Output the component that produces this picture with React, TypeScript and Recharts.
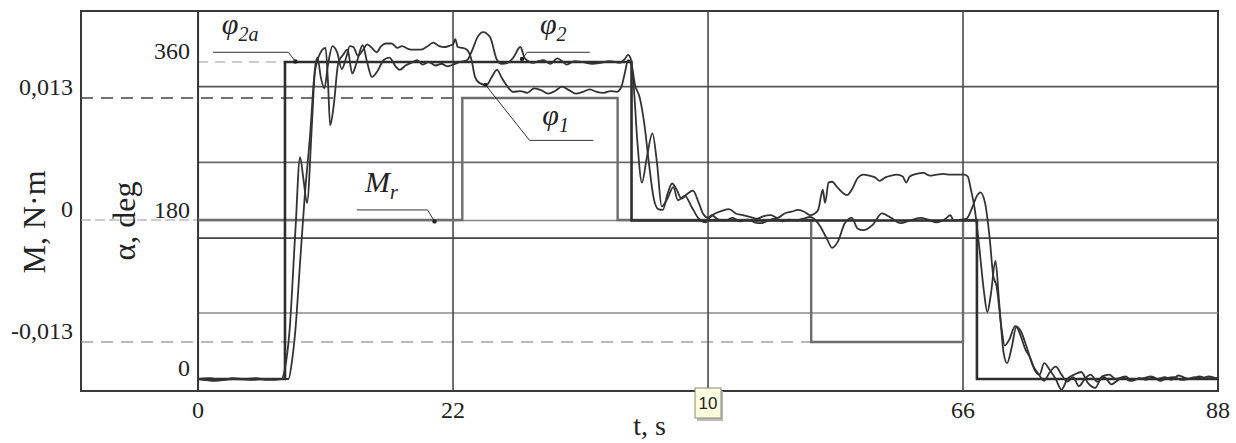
import React from 'react';
import {
  LineChart,
  Line,
  XAxis,
  YAxis,
  ReferenceLine,
  ReferenceArea,
  ReferenceDot
} from 'recharts';

// time ticks (s) and axis ticks
const T_TICKS = [0, 22, 44, 66, 88];
const T_GRID = [0, 22, 44, 66];
const ALPHA_TICKS = [0, 180, 360];
const M_TICKS = [-0.013, 0, 0.013];
const ALPHA_GRID = [75, 160, 246, 332];

const T_DOMAIN = [-10.1, 88];
const ALPHA_DOMAIN = [-13.6, 417.9];
const M_DOMAIN = [-0.01822, 0.02227];

// reference angle phi_2a (deg)
const PHI_2A = [
  [0, 0], [7.5, 0], [7.5, 360], [37.4, 360], [37.4, 180], [67.2, 180], [67.2, 0], [88, 0]
];

// load torque M_r (N·m)
const M_R = [
  [0, 0], [22.8, 0], [22.8, 0.013], [36.2, 0.013], [36.2, 0], [52.9, 0],
  [52.9, -0.013], [66, -0.013], [66, 0], [88, 0]
];

// phi_1 (deg)
const PHI_1 = [
  [0, 0], [1, 1], [2, -1], [3, 1], [4, 0], [5, 1], [6, -1], [7.2, 0], [7.5, 12], [7.9, 56],
  [8.4, 169], [8.8, 252], [9.1, 226], [9.4, 200], [9.8, 283], [10.1, 354], [10.3, 365],
  [10.6, 342], [10.9, 330], [11.2, 356], [11.6, 378], [12.0, 371], [12.4, 352], [12.8, 366],
  [13.1, 378], [13.4, 377], [13.8, 367], [14.2, 373], [14.6, 380], [15.0, 376], [15.4, 371],
  [15.8, 378], [16.2, 381], [16.7, 381], [17.2, 376], [17.6, 378], [18.1, 375], [18.6, 374],
  [19.2, 374], [19.7, 377], [20.3, 382], [20.8, 378], [21.3, 377], [21.8, 379], [22.0, 380],
  [22.2, 386], [22.4, 377], [22.8, 376], [23.2, 374], [23.6, 362], [23.9, 343], [24.3, 336],
  [24.9, 334], [25.3, 342], [25.8, 351], [26.2, 342], [26.7, 332], [27.2, 326], [27.8, 327],
  [28.4, 325], [29.0, 330], [29.6, 328], [30.2, 324], [30.8, 327], [31.4, 332], [32.0, 328],
  [32.6, 324], [33.2, 326], [33.8, 329], [34.4, 326], [35.0, 325], [35.6, 327], [36.1, 326],
  [36.5, 331], [36.8, 346], [37.1, 362], [37.4, 357], [37.7, 334], [38.1, 320], [38.5, 290],
  [38.9, 245], [39.3, 206], [39.7, 193], [40.1, 192], [40.5, 210], [40.9, 222], [41.3, 215],
  [41.7, 205], [42.2, 210], [42.7, 214], [43.2, 200], [43.6, 187], [44.0, 183], [44.6, 188],
  [45.2, 191], [45.8, 193], [46.4, 188], [47.0, 186], [47.6, 184], [48.2, 182], [48.8, 185],
  [49.4, 186], [50.0, 183], [50.6, 188], [51.2, 190], [51.8, 192], [52.3, 190], [52.8, 186],
  [53.2, 188], [53.5, 192], [53.8, 211], [53.9, 215], [54.1, 200], [54.4, 223], [54.7, 224],
  [55.2, 217], [56.0, 209], [56.4, 215], [56.9, 228], [57.4, 232], [57.9, 231], [58.4, 229],
  [58.8, 225], [59.3, 229], [59.8, 231], [60.3, 232], [60.8, 230], [61.1, 223], [61.4, 230],
  [62.0, 233], [62.6, 234], [63.1, 231], [63.7, 232], [64.3, 233], [64.9, 232], [65.5, 232],
  [66.1, 232], [66.4, 230], [66.7, 214], [67.0, 194], [67.4, 150], [67.8, 100], [68.1, 76],
  [68.4, 96], [68.8, 134], [69.1, 90], [69.5, 30], [69.8, 18], [70.2, 36], [70.6, 59],
  [71.0, 48], [71.4, 33], [71.8, 24], [72.2, 10], [72.6, 5], [73.0, 18], [73.5, 10], [74.0, 0],
  [74.5, -12], [75.0, 0], [75.6, 5], [76.2, 8], [76.8, -5], [77.4, -10], [78.0, 3], [78.6, 5],
  [79.2, 0], [79.8, 2], [80.4, -2], [81.0, 0], [81.6, 1], [82.2, 3], [82.8, 0], [83.4, 2],
  [84.0, -1], [84.6, 4], [85.2, 1], [85.8, 0], [86.4, 3], [87.0, 1], [88, 1]
];

// phi_2 (deg)
const PHI_2 = [
  [0, 0], [1.5, -2], [3, 0], [4.5, -1], [6, 0], [7.8, 0], [8.1, 20], [8.4, 56], [8.8, 132],
  [9.2, 207], [9.7, 283], [10.0, 340], [10.4, 366], [11.0, 376], [11.2, 340], [11.4, 288],
  [11.7, 310], [12.1, 359], [12.5, 368], [12.9, 374], [13.3, 347], [13.7, 360], [14.2, 379],
  [14.6, 359], [15.0, 343], [15.5, 350], [16.0, 362], [16.5, 365], [17.1, 354], [17.4, 351],
  [17.9, 356], [18.4, 359], [18.9, 362], [19.4, 357], [19.9, 360], [20.5, 356], [21.0, 358],
  [21.5, 355], [22.0, 357], [22.6, 360], [23.2, 362], [23.7, 375], [24.1, 388], [24.6, 394],
  [25.2, 388], [25.8, 362], [26.2, 358], [26.7, 359], [27.2, 365], [27.8, 377], [28.2, 364],
  [28.9, 359], [29.4, 361], [29.8, 362], [30.4, 358], [31.0, 364], [31.5, 360], [31.8, 357],
  [32.5, 361], [33.2, 360], [34.0, 358], [34.7, 359], [35.5, 361], [36.4, 359], [36.8, 363],
  [37.1, 368], [37.3, 365], [37.6, 330], [37.9, 270], [38.3, 223], [38.7, 250], [39.2, 279],
  [39.6, 245], [40.0, 196], [40.5, 205], [41.0, 218], [41.4, 203], [42.0, 208], [42.6, 195],
  [43.2, 182], [43.8, 178], [44.3, 186], [44.9, 181], [45.5, 180], [46.1, 183], [46.8, 179],
  [47.4, 181], [48.0, 178], [48.6, 177], [49.2, 180], [49.8, 182], [50.4, 179], [51.0, 181],
  [51.6, 180], [52.2, 182], [52.8, 184], [53.3, 180], [53.7, 173], [54.3, 158], [54.7, 149],
  [55.2, 156], [55.8, 177], [56.4, 183], [56.9, 171], [57.4, 169], [58.2, 175], [59.0, 188],
  [59.8, 183], [60.6, 177], [61.4, 180], [62.3, 183], [63.0, 181], [63.7, 178], [64.5, 182],
  [64.9, 186], [65.2, 180], [65.8, 181], [66.3, 182], [66.8, 195], [67.2, 208], [67.5, 212],
  [67.9, 200], [68.3, 160], [68.6, 118], [68.9, 105], [69.3, 60], [69.6, 38], [70.0, 45],
  [70.5, 60], [71.0, 54], [71.5, 36], [72.0, 16], [72.5, 6], [73.0, -2], [73.5, 8], [74.0, 14],
  [74.5, 5], [75.0, -3], [75.5, 2], [76.0, -8], [76.5, 0], [77.0, 5], [77.6, -3], [78.2, 2],
  [78.8, -6], [79.4, -1], [80.0, 3], [80.6, -2], [81.2, 1], [81.8, -1], [82.4, 2], [83.0, -2],
  [83.6, 1], [84.2, 2], [84.8, -1], [85.4, 0], [86.0, 2], [86.6, 1], [87.2, 3], [88, 0]
];

// curve labels and their leader lines (t, deg)
const LABELS = [
  { t: 2.05, a: 392, main: 'φ', sub: '2a' },
  { t: 29.5, a: 392, main: 'φ', sub: '2' },
  { t: 29.7, a: 289, main: 'φ', sub: '1' },
  { t: 14.4, a: 212, main: 'M', sub: 'r' }
];
const LEADERS = [
  [[1.3, 371], [7.8, 371], [8.4, 360.5]],
  [[27.95, 363.5], [28.4, 371], [33.8, 371]],
  [[24.8, 334], [28.6, 271], [34.1, 271]],
  [[13.7, 192], [19.8, 192], [20.4, 179]]
];

const SERIF = "'Liberation Serif', 'Times New Roman', serif";
const toPts = (arr: number[][]) => arr.map(([t, v]) => ({ t, v }));
const fmtM = (v: number) => (v === 0 ? '0' : v.toFixed(3).replace('.', ','));

const MTick = ({ y, payload }: any) => (
  <text x={73} y={y - 3} textAnchor="end" fontFamily={SERIF} fontSize={24} fill="#222">
    {fmtM(payload.value)}
  </text>
);

const AlphaTick = ({ y, payload }: any) => (
  <text x={190} y={y - 3} textAnchor="end" fontFamily={SERIF} fontSize={24} fill="#222">
    {payload.value}
  </text>
);

const TTick = ({ x, y, payload }: any) => {
  if (payload.value === 44) {
    return (
      <g>
        <rect x={x - 11} y={y} width={26} height={30} fill="#bbb" />
        <rect x={x - 13} y={y - 3} width={26} height={30} fill="#fdfde0" stroke="#8a8a70" strokeWidth={1} />
        <text x={x} y={y + 18} textAnchor="middle" fontFamily="'Liberation Sans', Arial, sans-serif" fontSize={17} fill="#222">
          10
        </text>
      </g>
    );
  }
  return (
    <text x={x} y={y + 27} textAnchor="middle" fontFamily={SERIF} fontSize={24} fill="#222">
      {payload.value}
    </text>
  );
};

const AxisTitles = () => (
  <g fontFamily={SERIF} fontSize={32} fill="#222">
    <text x={34} y={222} textAnchor="middle" dominantBaseline="central" transform="rotate(-90, 34, 222)">
      M, N·m
    </text>
    <text x={124} y={221} textAnchor="middle" dominantBaseline="central" transform="rotate(-90, 124, 221)">
      α, deg
    </text>
  </g>
);

const CurveLabel = ({ viewBox, main, sub }: any) => (
  <text x={viewBox.x} y={viewBox.y} fontFamily={SERIF} fontStyle="italic" fontSize={30} fill="#222">
    {main}
    <tspan fontSize={20} dy={7}>{sub}</tspan>
  </text>
);

export default function App() {
  return (
    <div style={{ position: 'absolute', left: 0, top: 0, width: 1236, height: 443, background: '#fff' }}>
      <LineChart width={1236} height={443} margin={{ top: 11, right: 18, bottom: 0, left: 0 }}>
        <XAxis
          dataKey="t"
          type="number"
          domain={T_DOMAIN}
          allowDataOverflow
          ticks={T_TICKS}
          interval={0}
          tick={<TTick />}
          tickSize={0}
          tickMargin={0}
          axisLine={false}
          tickLine={false}
          height={52}
          label={{
            content: ({ viewBox }: any) => (
              <text
                x={viewBox.x + viewBox.width / 2}
                y={viewBox.y + viewBox.height - 8}
                textAnchor="middle"
                fontFamily={SERIF}
                fontSize={28}
                fill="#222"
              >
                t, s
              </text>
            )
          }}
        />
        <YAxis
          yAxisId="m"
          type="number"
          domain={M_DOMAIN}
          allowDataOverflow
          ticks={M_TICKS}
          interval={0}
          width={81}
          tick={<MTick />}
          axisLine={false}
          tickLine={false}
          label={{ content: () => <AxisTitles /> }}
        />
        <YAxis
          yAxisId="a"
          type="number"
          domain={ALPHA_DOMAIN}
          allowDataOverflow
          ticks={ALPHA_TICKS}
          interval={0}
          mirror
          tick={<AlphaTick />}
          axisLine={false}
          tickLine={false}
        />

        {/* horizontal grid */}
        {ALPHA_GRID.map((g, i) => (
          <ReferenceLine
            key={'hg' + g}
            yAxisId="a"
            ifOverflow="visible"
            segment={[{ x: 0, y: g }, { x: 88, y: g }]}
            stroke={['#8a8a8a', '#444', '#6a6a6a', '#555'][i]}
            strokeWidth={1.6}
          />
        ))}
        <ReferenceLine
          yAxisId="a"
          ifOverflow="visible"
          segment={[{ x: 0, y: 180 }, { x: 88, y: 180 }]}
          stroke="#888"
          strokeWidth={1.6}
        />
        {/* dashed level marks */}
        <ReferenceLine
          yAxisId="a"
          ifOverflow="visible"
          segment={[{ x: 0, y: 360 }, { x: 7.5, y: 360 }]}
          stroke="#999"
          strokeWidth={1}
          strokeDasharray="10 7"
        />
        <ReferenceLine
          yAxisId="m"
          ifOverflow="visible"
          segment={[{ x: T_DOMAIN[0], y: 0.013 }, { x: 22.8, y: 0.013 }]}
          stroke="#444"
          strokeWidth={1.6}
          strokeDasharray="12 8"
        />
        <ReferenceLine
          yAxisId="m"
          ifOverflow="visible"
          segment={[{ x: T_DOMAIN[0], y: 0 }, { x: 0, y: 0 }]}
          stroke="#999"
          strokeWidth={1}
          strokeDasharray="10 4"
        />
        <ReferenceLine
          yAxisId="m"
          ifOverflow="visible"
          segment={[{ x: T_DOMAIN[0], y: -0.013 }, { x: 52.9, y: -0.013 }]}
          stroke="#777"
          strokeWidth={1.2}
          strokeDasharray="12 8"
        />

        {/* vertical grid */}
        {T_GRID.map((g) => (
          <ReferenceLine
            key={'vg' + g}
            yAxisId="a"
            x={g}
            ifOverflow="visible"
            stroke={g === 0 ? '#333' : '#4a4a4a'}
            strokeWidth={g === 0 ? 2 : 1.6}
          />
        ))}

        {/* frame */}
        <ReferenceArea
          yAxisId="a"
          x1={T_DOMAIN[0]}
          x2={T_DOMAIN[1]}
          y1={ALPHA_DOMAIN[0]}
          y2={ALPHA_DOMAIN[1]}
          ifOverflow="visible"
          fill="none"
          fillOpacity={0}
          stroke="#3a3a3a"
          strokeWidth={2}
        />

        <Line
          yAxisId="m"
          data={toPts(M_R)}
          dataKey="v"
          type="linear"
          stroke="#6e6e6e"
          strokeWidth={2.4}
          dot={false}
          isAnimationActive={false}
        />
        <Line
          yAxisId="a"
          data={toPts(PHI_2A)}
          dataKey="v"
          type="linear"
          stroke="#2e2e2e"
          strokeWidth={2.6}
          dot={false}
          isAnimationActive={false}
        />
        <Line
          yAxisId="a"
          data={toPts(PHI_1)}
          dataKey="v"
          type="monotone"
          stroke="#333"
          strokeWidth={1.8}
          dot={false}
          isAnimationActive={false}
        />
        <Line
          yAxisId="a"
          data={toPts(PHI_2)}
          dataKey="v"
          type="monotone"
          stroke="#333"
          strokeWidth={1.8}
          dot={false}
          isAnimationActive={false}
        />

        {/* leaders */}
        {LEADERS.flatMap((pts, i) =>
          pts.slice(1).map((p, j) => (
            <ReferenceLine
              key={'ld' + i + '-' + j}
              yAxisId="a"
              ifOverflow="visible"
              segment={[{ x: pts[j][0], y: pts[j][1] }, { x: p[0], y: p[1] }]}
              stroke="#333"
              strokeWidth={1}
            />
          ))
        )}
        {LEADERS.map((pts, i) => (
          <ReferenceDot
            key={'ad' + i}
            yAxisId="a"
            x={i === 0 || i === 3 ? pts[2][0] : pts[0][0]}
            y={i === 0 || i === 3 ? pts[2][1] : pts[0][1]}
            r={2.2}
            fill="#222"
            stroke="none"
            ifOverflow="visible"
          />
        ))}
        {LABELS.map((l) => (
          <ReferenceDot
            key={'lb' + l.sub}
            yAxisId="a"
            x={l.t}
            y={l.a}
            r={0}
            fill="none"
            stroke="none"
            ifOverflow="visible"
            label={{ content: (p: any) => <CurveLabel viewBox={p.viewBox} main={l.main} sub={l.sub} /> }}
          />
        ))}
      </LineChart>
    </div>
  );
}
